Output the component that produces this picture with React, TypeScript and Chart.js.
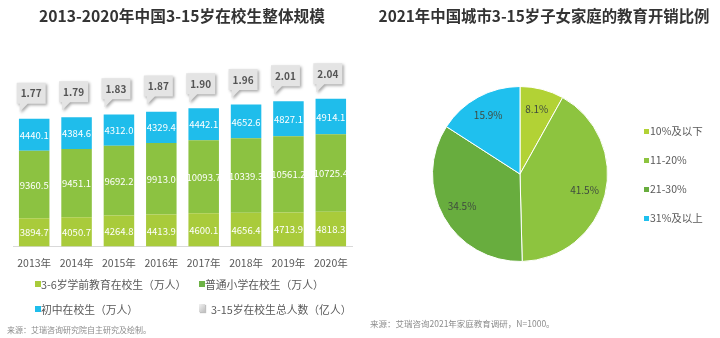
import React, { useEffect, useRef } from "react";
import { Chart, registerables } from "chart.js";

Chart.register(...registerables);

const FONT = "'Noto Sans CJK SC', 'Noto Sans', sans-serif";

// ---- Left chart data ----
const years = ["2013年", "2014年", "2015年", "2016年", "2017年", "2018年", "2019年", "2020年"];
const preschool = [3894.7, 4050.7, 4264.8, 4413.9, 4600.1, 4656.4, 4713.9, 4818.3];
const primary = [9360.5, 9451.1, 9692.2, 9913.0, 10093.7, 10339.3, 10561.2, 10725.4];
const juniorHigh = [4440.1, 4384.6, 4312.0, 4329.4, 4442.1, 4652.6, 4827.1, 4914.1];
const totalYi = [1.77, 1.79, 1.83, 1.87, 1.9, 1.96, 2.01, 2.04];
const seriesNames = ["3-6岁学前教育在校生（万人）", "普通小学在校生（万人）", "初中在校生（万人）", "3-15岁在校生总人数（亿人）"];
const barColors = ["#A9CB3B", "#8CC241", "#1FBDEB"];
const legendColors = ["#A9CB3B", "#6DB246", "#1FBDEB"];

// ---- Right chart data ----
const spendCategories = ["10%及以下", "11-20%", "21-30%", "31%及以上"];
const spendShares = [8.1, 41.5, 34.5, 15.9];
const pieColors = ["#B2D235", "#8DC43F", "#68AD3E", "#1FC0EE"];

const leftTitle = "2013-2020年中国3-15岁在校生整体规模";
const rightTitle = "2021年中国城市3-15岁子女家庭的教育开销比例";
const leftSource = "来源：艾瑞咨询研究院自主研究及绘制。";
const rightSource = "来源：艾瑞咨询2021年家庭教育调研，N=1000。";

const barLabelsPlugin = {
  id: "barLabels",
  afterDatasetsDraw(chart: any) {
    const ctx = chart.ctx;
    ctx.save();
    ctx.font = `9.5px ${FONT}`;
    ctx.fillStyle = "#ffffff";
    ctx.textAlign = "center";
    ctx.textBaseline = "middle";
    for (let d = 0; d < 3; d++) {
      const meta = chart.getDatasetMeta(d);
      const ds = chart.data.datasets[d];
      meta.data.forEach((el: any, i: number) => {
        const v = ds.data[i] as number;
        ctx.fillText(v.toFixed(1), el.x, (el.y + el.base) / 2 + 0.5);
      });
    }
    ctx.restore();
  },
};

const calloutPlugin = {
  id: "callouts",
  afterDatasetsDraw(chart: any) {
    const ctx = chart.ctx;
    const meta = chart.getDatasetMeta(3);
    const ds = chart.data.datasets[3];
    meta.data.forEach((pt: any, i: number) => {
      const bw = 29;
      const bh = 21;
      const left = pt.x - 3 - bw / 2;
      const right = left + bw;
      const bottom = pt.y - 15;
      const top = bottom - bh;
      ctx.save();
      ctx.shadowColor = "rgba(0,0,0,0.35)";
      ctx.shadowBlur = 3;
      ctx.shadowOffsetX = 1.5;
      ctx.shadowOffsetY = 1.5;
      ctx.beginPath();
      ctx.moveTo(left, top);
      ctx.lineTo(right, top);
      ctx.lineTo(right, bottom);
      ctx.lineTo(left + 11, bottom);
      ctx.lineTo(left + 3, pt.y - 7);
      ctx.lineTo(left + 3, bottom);
      ctx.lineTo(left, bottom);
      ctx.closePath();
      ctx.fillStyle = "#e4e4e4";
      ctx.fill();
      ctx.restore();
      ctx.save();
      ctx.font = `bold 10px ${FONT}`;
      ctx.fillStyle = "#555555";
      ctx.textAlign = "center";
      ctx.textBaseline = "middle";
      ctx.fillText((ds.data[i] as number).toFixed(2), (left + right) / 2, (top + bottom) / 2 + 0.5);
      ctx.restore();
    });
  },
};

const pieLabelsPlugin = {
  id: "pieLabels",
  afterDatasetsDraw(chart: any) {
    const ctx = chart.ctx;
    const meta = chart.getDatasetMeta(0);
    const ds = chart.data.datasets[0];
    ctx.save();
    ctx.font = `10px ${FONT}`;
    ctx.fillStyle = "#3f4a3f";
    ctx.textAlign = "center";
    ctx.textBaseline = "middle";
    meta.data.forEach((arc: any, i: number) => {
      const a = (arc.startAngle + arc.endAngle) / 2;
      const r = arc.outerRadius * 0.76;
      ctx.fillText(`${(ds.data[i] as number).toFixed(1)}%`, arc.x + Math.cos(a) * r, arc.y + Math.sin(a) * r);
    });
    ctx.restore();
  },
};

function LeftChart() {
  const ref = useRef<HTMLCanvasElement>(null);
  useEffect(() => {
    const chart = new Chart(ref.current!, {
      type: "bar",
      data: {
        labels: years,
        datasets: [
          { label: seriesNames[0], data: preschool, backgroundColor: barColors[0], stack: "s" },
          { label: seriesNames[1], data: primary, backgroundColor: barColors[1], stack: "s" },
          { label: seriesNames[2], data: juniorHigh, backgroundColor: barColors[2], stack: "s" },
          {
            type: "line",
            label: seriesNames[3],
            data: totalYi,
            yAxisID: "y2",
            pointRadius: 0,
            showLine: false,
            borderColor: "#cccccc",
          } as any,
        ],
      },
      options: {
        responsive: false,
        animation: false,
        layout: { padding: { left: 13, right: 8, top: 40, bottom: 59 } },
        plugins: { legend: { display: false }, tooltip: { enabled: false }, title: { display: false } },
        scales: {
          x: {
            stacked: true,
            grid: { display: false, drawTicks: false },
            border: { display: true, color: "#d9d9d9", width: 1 },
            ticks: { font: { family: FONT, size: 10.5 }, color: "#595959", padding: 10 },
          },
          y: { stacked: true, display: false, min: 0, max: 28600 },
          y2: { display: false, min: 0, max: 2.86 },
        },
      },
      plugins: [barLabelsPlugin, calloutPlugin],
    });
    return () => chart.destroy();
  }, []);
  return <canvas ref={ref} width={360} height={338} style={{ position: "absolute", left: 0, top: 0 }} />;
}

function RightChart() {
  const ref = useRef<HTMLCanvasElement>(null);
  useEffect(() => {
    const chart = new Chart(ref.current!, {
      type: "pie",
      data: {
        labels: spendCategories,
        datasets: [
          {
            data: spendShares,
            backgroundColor: pieColors,
            borderColor: "#ffffff",
            borderWidth: 1,
          },
        ],
      },
      options: {
        responsive: false,
        animation: false,
        layout: { padding: { left: 72, right: 112, top: 86, bottom: 76 } },
        plugins: { legend: { display: false }, tooltip: { enabled: false } },
      },
      plugins: [pieLabelsPlugin],
    });
    return () => chart.destroy();
  }, []);
  return <canvas ref={ref} width={360} height={338} style={{ position: "absolute", left: 360, top: 0 }} />;
}

const textBase: React.CSSProperties = {
  position: "absolute",
  fontFamily: FONT,
  lineHeight: 1,
  whiteSpace: "nowrap",
};

function Centered({ x, y, size, bold, color, children }: any) {
  return (
    <div style={{ ...textBase, left: x, top: y, fontSize: size, fontWeight: bold ? 700 : 400, color, transform: "translate(-50%, -50%)" }}>
      {children}
    </div>
  );
}

function LeftText({ x, y, size, color, children }: any) {
  return (
    <div style={{ ...textBase, left: x, top: y, fontSize: size, color, transform: "translateY(-50%)" }}>{children}</div>
  );
}

function Box({ x, y, size, color }: any) {
  return <div style={{ position: "absolute", left: x, top: y - size / 2, width: size, height: size, background: color }} />;
}

export default function App() {
  const leftLegend = [
    { x: 35, y: 284, color: legendColors[0], name: seriesNames[0] },
    { x: 199, y: 284, color: legendColors[1], name: seriesNames[1] },
    { x: 35, y: 309, color: legendColors[2], name: seriesNames[2] },
  ];
  return (
    <div style={{ position: "fixed", left: 0, top: 0, width: 720, height: 338, background: "#fff", overflow: "hidden" }}>
      <LeftChart />
      <RightChart />
      <Centered x={182} y={16} size={15.7} bold color="#333333">{leftTitle}</Centered>
      <Centered x={544} y={16} size={15.4} bold color="#333333">{rightTitle}</Centered>
      {leftLegend.map((it, i) => (
        <React.Fragment key={i}>
          <Box x={it.x} y={it.y} size={6} color={it.color} />
          <LeftText x={it.x + 6} y={it.y} size={10.8} color="#595959">{it.name}</LeftText>
        </React.Fragment>
      ))}
      <div style={{ position: "absolute", left: 199, top: 304, width: 6, height: 8, background: "linear-gradient(135deg,#f2f2f2,#bfbfbf)", boxShadow: "1px 1px 1px rgba(0,0,0,0.25)" }} />
      <LeftText x={211} y={309} size={10.8} color="#595959">{seriesNames[3]}</LeftText>
      <LeftText x={7} y={330} size={8} color="#8c8c8c">{leftSource}</LeftText>
      {spendCategories.map((c, i) => (
        <React.Fragment key={c}>
          <Box x={644} y={131 + i * 29} size={5} color={pieColors[i]} />
          <LeftText x={650} y={131 + i * 29} size={10.5} color="#595959">{c}</LeftText>
        </React.Fragment>
      ))}
      <LeftText x={370} y={323} size={8.5} color="#8c8c8c">{rightSource}</LeftText>
    </div>
  );
}
